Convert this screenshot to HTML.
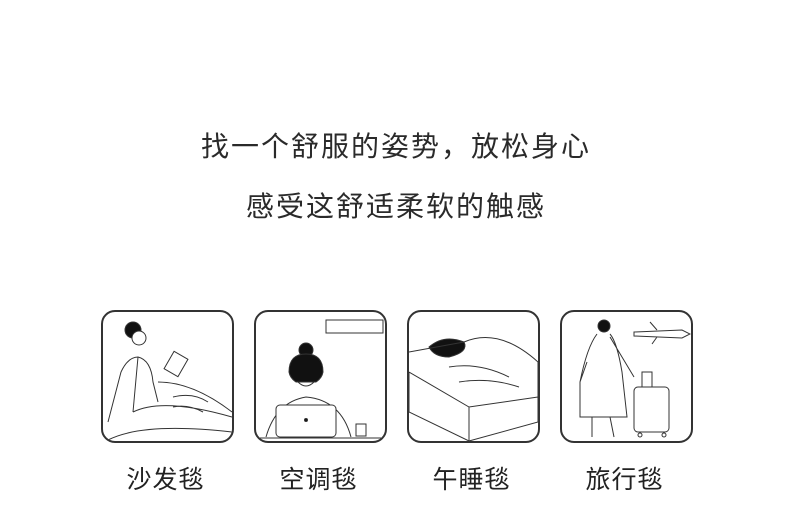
<!DOCTYPE html>
<html><head><meta charset="utf-8"><style>
body{margin:0;width:790px;height:526px;background:#fff;position:relative;overflow:hidden;font-family:"Liberation Sans","Noto Sans CJK SC",sans-serif;color:#2a2a2a}
.t{position:absolute;left:0;width:790px;text-align:center;font-size:28px;letter-spacing:2px;text-indent:2px}
.box{position:absolute;top:310px;width:129px;height:129px;border:2px solid #333;border-radius:14px;overflow:hidden}
.lab{position:absolute;top:460px;width:133px;text-align:center;font-size:25px;letter-spacing:1px;color:#222}
svg{position:absolute;left:0;top:0}
</style></head><body>
<div class="t" style="top:125px">找一个舒服的姿势，放松身心</div>
<div class="t" style="top:185px">感受这舒适柔软的触感</div>

<div class="box" style="left:101px"><svg width="129" height="129" fill="none" stroke="#333" stroke-width="1">
<circle cx="30" cy="18" r="8" fill="#111"/><circle cx="36" cy="26" r="7" fill="#fff"/>
<path d="M18 60 Q25 45 35 45 Q48 48 50 70 L55 90 M18 60 L5 110 M35 45 L30 100"/>
<rect x="65" y="42" width="16" height="20" transform="rotate(30 73 52)"/>
<path d="M55 70 Q90 70 129 100 M30 100 Q60 85 129 105 M5 128 Q40 110 129 120 M70 85 Q90 80 105 90 M70 95 Q85 92 100 100"/>
</svg></div>

<div class="box" style="left:254px"><svg width="129" height="129" fill="none" stroke="#333" stroke-width="1">
<rect x="70" y="8" width="57" height="13"/>
<circle cx="50" cy="38" r="7" fill="#111"/>
<path d="M33 60 Q33 42 50 42 Q67 42 67 60 Q66 66 60 70 L40 70 Q34 66 33 60Z" fill="#111"/>
<path d="M42 70 Q50 78 58 70 M10 125 Q20 90 50 85 Q85 88 95 125"/>
<rect x="20" y="93" width="60" height="32" rx="4" fill="#fff"/>
<circle cx="50" cy="108" r="1.5" fill="#111"/>
<rect x="100" y="112" width="10" height="12"/>
<line x1="0" y1="126" x2="129" y2="126"/>
</svg></div>

<div class="box" style="left:407px"><svg width="129" height="129" fill="none" stroke="#333" stroke-width="1">
<path d="M20 35 Q35 22 55 30 Q60 40 40 45 Q25 45 20 35Z" fill="#111"/>
<path d="M0 40 L55 30 Q90 15 129 50 L129 85 L60 95 L0 60 M0 60 L0 100 L60 129 L129 110 L129 85 M60 95 L60 129 M40 55 Q70 50 100 65 M50 70 Q80 65 110 75"/>
</svg></div>

<div class="box" style="left:560px"><svg width="129" height="129" fill="none" stroke="#333" stroke-width="1">
<circle cx="42" cy="14" r="6" fill="#111"/>
<path d="M35 22 Q25 35 18 70 L18 105 L65 105 L60 60 Q55 30 48 22 M25 50 L18 70 M48 25 L72 65 M30 105 L30 125 M48 105 L52 125"/>
<path d="M72 20 L120 18 L128 22 L120 26 L72 24Z M95 18 L88 10 M95 25 L90 32"/>
<rect x="72" y="75" width="35" height="45" rx="4"/>
<path d="M80 75 L80 60 L90 60 L90 75"/>
<circle cx="78" cy="123" r="2"/><circle cx="102" cy="123" r="2"/>
</svg></div>

<div class="lab" style="left:99px">沙发毯</div>
<div class="lab" style="left:252px">空调毯</div>
<div class="lab" style="left:405px">午睡毯</div>
<div class="lab" style="left:558px">旅行毯</div>
</body></html>
